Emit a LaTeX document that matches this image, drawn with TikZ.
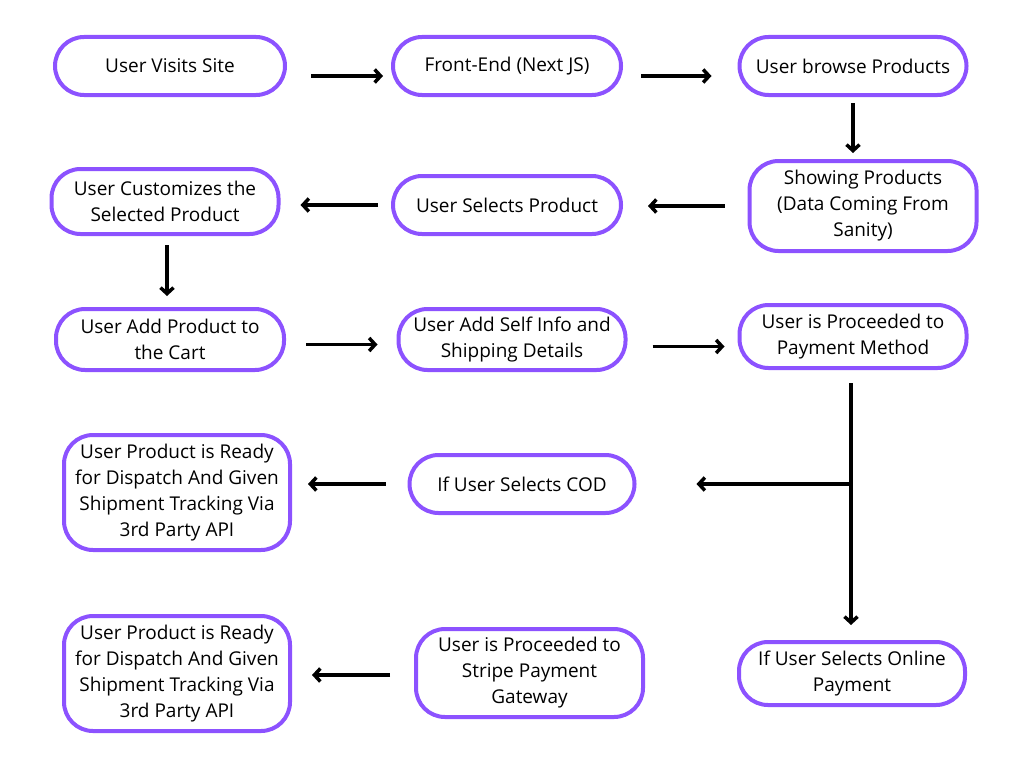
\documentclass[tikz,border=0pt]{standalone}
\usepackage{fontspec}
\setmainfont{Open Sans}
\usetikzlibrary{arrows.meta}
\definecolor{pur}{HTML}{8C52FF}
\tikzset{
  box/.style={draw=pur, line width=4pt, rounded corners=29pt, fill=white,
    align=center, inner sep=0pt, font=\fontsize{19}{26}\selectfont},
  arr/.style={line width=3.5pt, -{Straight Barb[length=6pt,width=13pt]}},
  ln/.style={line width=3.5pt}
}
\begin{document}
\begin{tikzpicture}[x=1pt,y=-1pt]
\useasboundingbox (0,0) rectangle (1024,768);
\node[box, minimum width=230pt, minimum height=58pt] (n1) at (170,66) {User Visits Site};
\node[box, minimum width=228pt, minimum height=58pt] (n2) at (507,66) {Front-End (Next JS)};
\node[box, minimum width=227pt, minimum height=58pt] (n3) at (853,66) {User browse Products};
\node[box, minimum width=227pt, minimum height=90pt] (n4) at (863,206) {Showing Products\\(Data Coming From\\Sanity)};
\node[box, minimum width=228pt, minimum height=58pt] (n5) at (507,205) {User Selects Product};
\node[box, minimum width=227pt, minimum height=65pt] (n6) at (165,201.5) {User Customizes the\\Selected Product};
\node[box, minimum width=228pt, minimum height=61pt] (n7) at (170,339.5) {User Add Product to\\the Cart};
\node[box, minimum width=227pt, minimum height=61pt] (n8) at (512,339.5) {User Add Self Info and\\Shipping Details};
\node[box, minimum width=227pt, minimum height=63pt] (n9) at (853,336.5) {User is Proceeded to\\Payment Method};
\node[box, minimum width=225pt, minimum height=58pt] (n10) at (522,484) {If User Selects COD};
\node[box, minimum width=226pt, minimum height=115pt] (n11) at (177,492.5) {User Product is Ready\\for Dispatch And Given\\Shipment Tracking Via\\3rd Party API};
\node[box, minimum width=226pt, minimum height=63pt] (n12) at (852,673.5) {If User Selects Online\\Payment};
\node[box, minimum width=227pt, minimum height=88pt] (n13) at (529.5,673) {User is Proceeded to\\Stripe Payment\\Gateway};
\node[box, minimum width=226pt, minimum height=115pt] (n14) at (177,673.5) {User Product is Ready\\for Dispatch And Given\\Shipment Tracking Via\\3rd Party API};

\draw[arr, shorten <=24pt, shorten >=8pt] ([yshift=-10pt]n1.east) -- ([yshift=-10pt]n1.east -| n2.west);
\draw[arr, shorten <=18pt, shorten >=26pt] ([yshift=-10pt]n2.east) -- ([yshift=-10pt]n2.east -| n3.west);
\draw[arr, shorten <=6pt, shorten >=6pt] (n3.south) -- (n3.south |- n4.north);
\draw[arr, shorten <=23pt, shorten >=25pt] (n4.west) -- (n4.west -| n5.east);
\draw[arr, shorten <=13pt, shorten >=20pt] (n5.west) -- (n5.west -| n6.east);
\draw[arr, shorten <=9pt, shorten >=11pt] ([xshift=2pt]n6.south) -- ([xshift=2pt]n6.south |- n7.north);
\draw[arr, shorten <=20pt, shorten >=19pt] ([yshift=-5pt]n7.east) -- ([yshift=-5pt]n7.east -| n8.west);
\draw[arr, shorten <=25pt, shorten >=13pt] ([yshift=-7pt]n8.east) -- ([yshift=-7pt]n8.east -| n9.west);
\coordinate (br) at ([xshift=-2pt]n9.south |- n10.east);
\draw[arr, shorten <=13pt, shorten >=15pt] ([xshift=-2pt]n9.south) -- ([xshift=-2pt]n9.south |- n12.north);
\draw[arr, shorten >=60pt] (br) -- (br -| n10.east);
\draw[arr, shorten <=22pt, shorten >=16pt] (n10.west) -- (n10.west -| n11.east);
\draw[arr, shorten <=24pt, shorten >=20pt] ([yshift=-2pt]n13.west) -- ([yshift=-2pt]n13.west -| n14.east);
\end{tikzpicture}
\end{document}
